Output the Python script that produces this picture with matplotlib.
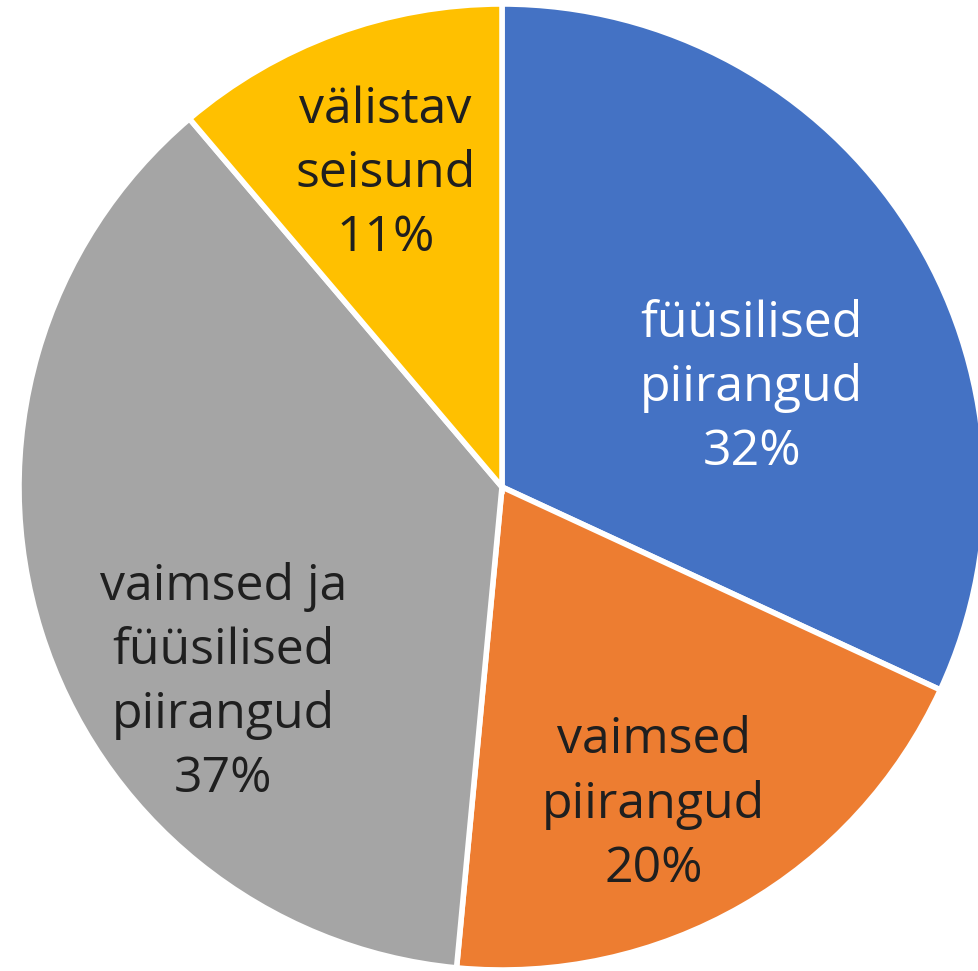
import matplotlib.pyplot as plt
import numpy as np

# Data to plot
labels  = ['füüsilised\npiirangud', 'vaimsed\npiirangud',
           'vaimsed ja\nfüüsilised\npiirangud', 'välistav\nseisund']
shares  = [31.9, 19.6, 37.3, 11.2]
colors  = ['#4472C4', '#ED7D31', '#A5A5A5', '#FFC000']
txt_col = ['white', '#1f1f1f', '#1f1f1f', '#1f1f1f']

# label placement (Excel "best fit" look): radius and angle shift per slice
lab_r     = [0.56, 0.72, 0.70, 0.70]
lab_shift = [-10, -4, 17, 0]

fig = plt.figure(figsize=(9.79, 9.71), dpi=100)
ax = fig.add_axes([0, 0, 1, 1])

wedges, _ = ax.pie(
    shares,
    colors=colors,
    startangle=90,
    counterclock=False,
    radius=1.0,
    wedgeprops=dict(edgecolor='white', linewidth=4),
)

for w, lab, pct, r, sh, c in zip(wedges, labels, shares, lab_r, lab_shift, txt_col):
    ang = np.deg2rad((w.theta1 + w.theta2) / 2 + sh)
    ax.text(r * np.cos(ang), r * np.sin(ang) - 0.01, '%s\n%.0f%%' % (lab, pct),
            ha='center', va='center', fontsize=36, color=c,
            family='Open Sans', linespacing=1.38)

# circle is slightly cropped by the image edges
ax.set_xlim(-502 / 483, (979 - 502) / 483)
ax.set_ylim(-(971 - 487) / 483, 487 / 483)
ax.set_aspect('equal')
ax.axis('off')

plt.savefig('out.png', dpi=100)
